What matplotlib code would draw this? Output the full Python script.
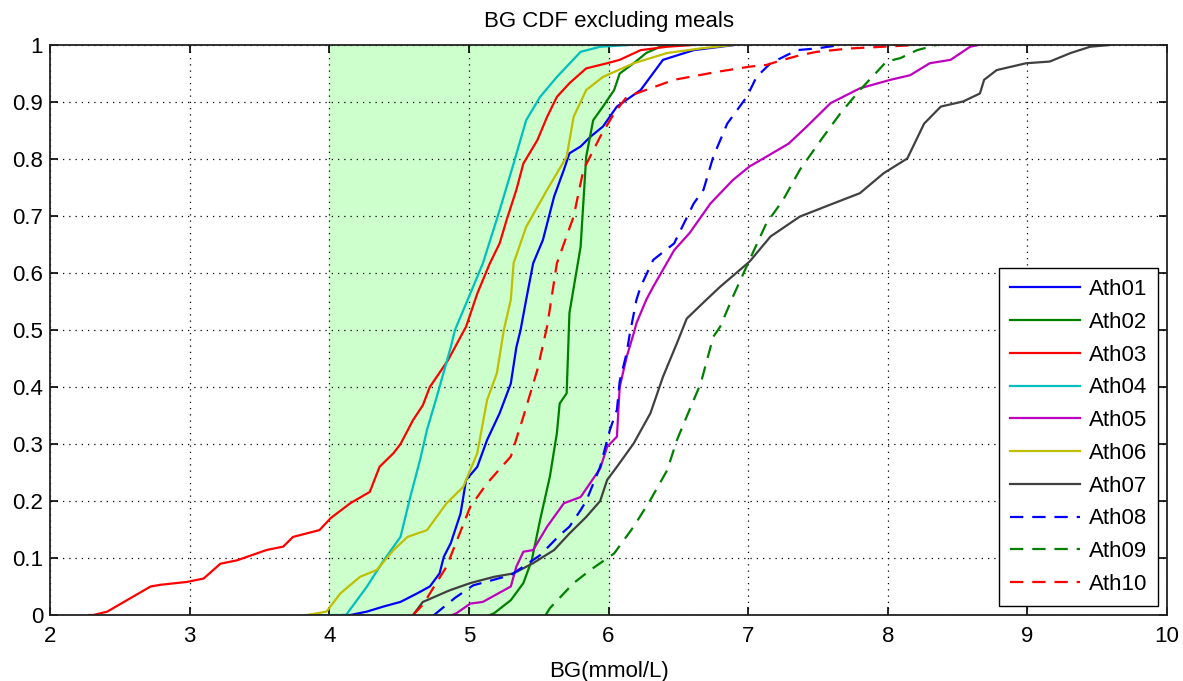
import numpy as np
import matplotlib
matplotlib.use('Agg')
import matplotlib.pyplot as plt

plt.rcParams['font.family'] = ['Liberation Sans', 'DejaVu Sans']

# target band (mmol/L)
band = [4, 6]

# CDF curves: (BG, cumulative fraction)
ath01_x = [4.10, 4.15, 4.27, 4.39, 4.51, 4.63, 4.72, 4.79, 4.82, 4.87, 4.94, 4.98, 5.06, 5.13, 5.22, 5.30,
           5.34, 5.37, 5.41, 5.46, 5.53, 5.61, 5.68, 5.72, 5.80, 5.87, 5.96, 6.06, 6.23, 6.39, 6.61, 6.90]
ath01_y = [0.0, 0.0, 0.006, 0.015, 0.023, 0.038, 0.05, 0.073, 0.102, 0.126, 0.178, 0.237, 0.26, 0.307, 0.354, 0.406,
           0.47, 0.50, 0.553, 0.617, 0.658, 0.734, 0.781, 0.81, 0.822, 0.839, 0.857, 0.892, 0.921, 0.974, 0.991, 1.0]

ath02_x = [5.15, 5.18, 5.30, 5.39, 5.45, 5.51, 5.58, 5.63, 5.65, 5.70, 5.72, 5.80, 5.84, 5.89, 5.96, 6.04,
           6.08, 6.18, 6.27, 6.37, 6.50]
ath02_y = [0.0, 0.003, 0.026, 0.056, 0.096, 0.167, 0.243, 0.319, 0.371, 0.389, 0.53, 0.646, 0.804, 0.868, 0.892, 0.921,
           0.95, 0.968, 0.986, 0.997, 1.0]

ath03_x = [2.28, 2.31, 2.41, 2.72, 2.79, 2.98, 3.10, 3.22, 3.34, 3.55, 3.67, 3.74, 3.93, 4.01, 4.15, 4.29,
           4.36, 4.46, 4.51, 4.60, 4.67, 4.72, 4.77, 4.85, 4.98, 5.06, 5.15, 5.22, 5.27, 5.34, 5.39, 5.49,
           5.56, 5.63, 5.72, 5.84, 5.99, 6.08, 6.23, 6.42, 6.60]
ath03_y = [0.0, 0.0, 0.006, 0.05, 0.053, 0.058, 0.064, 0.09, 0.096, 0.114, 0.12, 0.137, 0.149, 0.17, 0.196, 0.216,
           0.26, 0.284, 0.30, 0.342, 0.368, 0.40, 0.418, 0.447, 0.506, 0.564, 0.617, 0.652, 0.693, 0.746, 0.792, 0.833,
           0.874, 0.909, 0.933, 0.959, 0.968, 0.974, 0.991, 0.997, 1.0]

ath04_x = [3.83, 4.12, 4.27, 4.39, 4.51, 4.58, 4.65, 4.70, 4.77, 4.87, 4.90, 5.01, 5.10, 5.22, 5.32, 5.41,
           5.51, 5.63, 5.80, 5.94, 6.15]
ath04_y = [0.0, 0.0, 0.05, 0.096, 0.137, 0.207, 0.272, 0.325, 0.383, 0.47, 0.50, 0.564, 0.617, 0.71, 0.792, 0.868,
           0.909, 0.944, 0.988, 0.997, 1.0]

ath05_x = [4.88, 4.91, 5.01, 5.10, 5.30, 5.34, 5.39, 5.46, 5.56, 5.68, 5.80, 5.94, 5.99, 6.06, 6.08, 6.13,
           6.18, 6.20, 6.27, 6.32, 6.47, 6.58, 6.73, 6.89, 7.01, 7.13, 7.29, 7.42, 7.59, 7.80, 8.02, 8.16,
           8.30, 8.45, 8.59, 8.65]
ath05_y = [0.0, 0.003, 0.02, 0.023, 0.05, 0.085, 0.111, 0.114, 0.155, 0.196, 0.207, 0.257, 0.295, 0.313, 0.40, 0.453,
           0.494, 0.512, 0.553, 0.576, 0.64, 0.67, 0.722, 0.763, 0.787, 0.804, 0.827, 0.857, 0.898, 0.924, 0.939, 0.947,
           0.968, 0.974, 0.997, 1.0]

ath06_x = [3.84, 3.98, 4.08, 4.22, 4.34, 4.46, 4.56, 4.70, 4.84, 4.96, 5.06, 5.13, 5.20, 5.25, 5.30, 5.32,
           5.41, 5.56, 5.70, 5.75, 5.84, 5.96, 6.18, 6.42, 6.66, 6.89]
ath06_y = [0.0, 0.006, 0.038, 0.067, 0.079, 0.114, 0.137, 0.149, 0.196, 0.225, 0.284, 0.377, 0.424, 0.50, 0.553, 0.617,
           0.681, 0.746, 0.804, 0.874, 0.921, 0.944, 0.968, 0.986, 0.994, 1.0]

ath07_x = [4.60, 4.67, 4.70, 4.84, 4.87, 5.01, 5.18, 5.32, 5.46, 5.61, 5.72, 5.84, 5.94, 5.99, 6.06, 6.18,
           6.30, 6.39, 6.49, 6.56, 6.70, 6.80, 7.01, 7.16, 7.37, 7.61, 7.80, 7.97, 8.14, 8.26, 8.38, 8.54,
           8.66, 8.69, 8.78, 8.99, 9.16, 9.31, 9.45, 9.59]
ath07_y = [0.0, 0.023, 0.026, 0.041, 0.044, 0.056, 0.067, 0.073, 0.091, 0.114, 0.143, 0.172, 0.20, 0.237, 0.26, 0.301,
           0.354, 0.418, 0.477, 0.52, 0.553, 0.576, 0.62, 0.664, 0.699, 0.722, 0.74, 0.775, 0.801, 0.862, 0.892, 0.901,
           0.915, 0.939, 0.956, 0.968, 0.971, 0.986, 0.997, 1.0]

ath08_x = [4.75, 4.90, 5.03, 5.30, 5.51, 5.65, 5.72, 5.80, 5.84, 5.89, 5.94, 6.01, 6.06, 6.08, 6.13, 6.15,
           6.20, 6.23, 6.32, 6.47, 6.54, 6.61, 6.68, 6.75, 6.85, 6.99, 7.06, 7.16, 7.35, 7.49, 7.66]
ath08_y = [0.0, 0.03, 0.052, 0.07, 0.105, 0.14, 0.155, 0.184, 0.20, 0.23, 0.26, 0.325, 0.36, 0.41, 0.46, 0.49,
           0.553, 0.576, 0.623, 0.652, 0.687, 0.722, 0.746, 0.804, 0.862, 0.909, 0.944, 0.968, 0.991, 0.994, 1.0]

ath09_x = [5.55, 5.58, 5.75, 5.87, 6.04, 6.18, 6.30, 6.42, 6.49, 6.58, 6.66, 6.75, 6.80, 6.89, 7.01, 7.13,
           7.25, 7.37, 7.52, 7.66, 7.80, 7.90, 7.99, 8.09, 8.21, 8.35]
ath09_y = [0.0, 0.012, 0.056, 0.079, 0.108, 0.155, 0.202, 0.254, 0.307, 0.36, 0.406, 0.488, 0.506, 0.558, 0.623, 0.687,
           0.728, 0.781, 0.833, 0.88, 0.921, 0.947, 0.971, 0.977, 0.991, 1.0]

ath10_x = [4.60, 4.67, 4.84, 5.01, 5.13, 5.30, 5.39, 5.49, 5.56, 5.63, 5.75, 5.82, 5.94, 6.04, 6.13, 6.30,
           6.47, 6.78, 7.01, 7.13, 7.25, 7.37, 7.49, 7.73, 7.97, 8.20]
ath10_y = [0.0, 0.018, 0.085, 0.19, 0.231, 0.278, 0.348, 0.43, 0.506, 0.617, 0.699, 0.781, 0.839, 0.88, 0.909, 0.924,
           0.939, 0.953, 0.962, 0.965, 0.974, 0.982, 0.988, 0.994, 0.997, 1.0]

curves = [(ath01_x, ath01_y), (ath02_x, ath02_y), (ath03_x, ath03_y), (ath04_x, ath04_y), (ath05_x, ath05_y),
          (ath06_x, ath06_y), (ath07_x, ath07_y), (ath08_x, ath08_y), (ath09_x, ath09_y), (ath10_x, ath10_y)]
labels = ['Ath01', 'Ath02', 'Ath03', 'Ath04', 'Ath05', 'Ath06', 'Ath07', 'Ath08', 'Ath09', 'Ath10']

# matlab default-ish line colours
colors = [(0, 0, 1), (0, 0.5, 0), (1, 0, 0), (0, 0.75, 0.75), (0.75, 0, 0.75),
          (0.75, 0.75, 0), (0.25, 0.25, 0.25), (0, 0, 1), (0, 0.5, 0), (1, 0, 0)]
styles = ['-'] * 7 + ['--'] * 3

fig = plt.figure(figsize=(11.83, 6.81), dpi=100)
ax = fig.add_axes([0.0423, 0.0969, 0.9442, 0.837])

ax.axvspan(band[0], band[1], color='#ccffcc', zorder=0)

for (xs, ys), lab, c, ls in zip(curves, labels, colors, styles):
    if ls == '--':
        ax.plot(xs, ys, ls, color=c, lw=1.6, label=lab, dashes=(6, 4))
    else:
        ax.plot(xs, ys, ls, color=c, lw=1.6, label=lab)

ax.set_xlim(2, 10)
ax.set_ylim(0, 1)
ax.set_xticks(np.arange(2, 11, 1))
ax.set_yticks(np.arange(0, 1.01, 0.1))
ax.set_yticklabels(['0', '0.1', '0.2', '0.3', '0.4', '0.5', '0.6', '0.7', '0.8', '0.9', '1'])
ax.grid(True, linestyle=(0, (1, 4)), color='black', lw=0.9)
ax.set_axisbelow(True)
ax.tick_params(direction='in', top=True, right=True, labelsize=16, length=6, width=1.2)
ax.tick_params(axis='x', pad=8)
ax.tick_params(axis='y', pad=5)
for s in ax.spines.values():
    s.set_linewidth(1.3)
    s.set_color('#222222')

ax.set_xlabel('BG(mmol/L)', fontsize=16, labelpad=10)
ax.set_title('BG CDF excluding meals', fontsize=16, pad=13)

leg = ax.legend(loc='lower right', fontsize=16, handlelength=3.15, handletextpad=0.4,
                labelspacing=0.53, borderpad=0.5, borderaxespad=0.4,
                fancybox=False, edgecolor='black', framealpha=1)
leg.get_frame().set_linewidth(1.0)

fig.savefig('out.png', dpi=100)
